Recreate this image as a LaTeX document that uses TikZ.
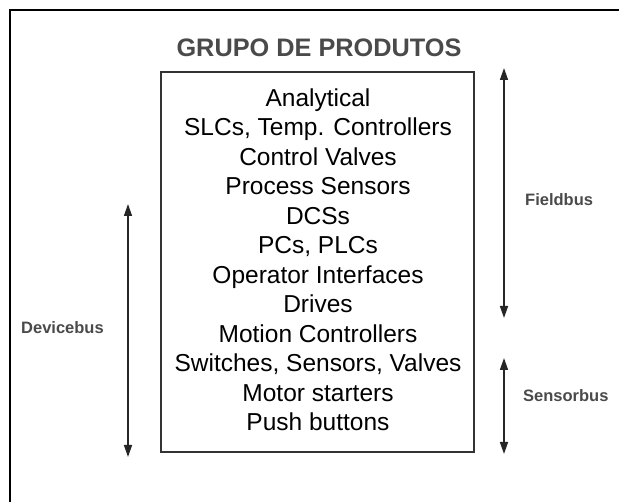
\documentclass[tikz,border=0pt]{standalone}
\usepackage{fontspec}
\setmainfont{Liberation Sans}
\usetikzlibrary{arrows.meta}
\definecolor{labelgray}{HTML}{4A4A4A}
\definecolor{boxgray}{HTML}{333333}
\tikzset{
  itemtext/.style={anchor=base, inner sep=0pt, font=\fontsize{24.5pt}{28pt}\selectfont, text=black},
  buslabel/.style={anchor=west, inner sep=0pt, font=\bfseries\fontsize{16.5pt}{20pt}\selectfont, text=labelgray},
  busarrow/.style={draw=black!85, line width=1.5pt, {Triangle[width=8pt,length=12pt]}-{Triangle[width=8pt,length=12pt]}},
  framestyle/.style={draw=black, line width=2.5pt},
  boxstyle/.style={draw=boxgray, line width=1.3pt}
}
\begin{document}
\begin{tikzpicture}[x=1pt,y=-1pt]
\useasboundingbox (0,0) rectangle (619,502);
% outer frame
\coordinate (fbl) at (10,503);
\coordinate (ftl) at (10,10);
\coordinate (ftr) at (620,10);
\draw[framestyle] (fbl) -- (ftl) -- (ftr);
% title
\node[anchor=base, inner sep=0pt, font=\bfseries\fontsize{25.3pt}{28pt}\selectfont, text=labelgray] (title) at (319,57) {GRUPO DE PRODUTOS};
% box
\node[boxstyle, minimum width=313pt, minimum height=380pt, inner sep=0pt] (box) at (317.5,262) {};
% items
\foreach \t [count=\i] in {Analytical,{SLCs, Temp. Controllers},Control Valves,Process Sensors,DCSs,{PCs, PLCs},Operator Interfaces,Drives,Motion Controllers,{Switches, Sensors, Valves},Motor starters,Push buttons}{
  \node[itemtext] (l\i) at (318,{106.5+29.5*(\i-1)}) {\t};
}
% arrows
\coordinate (dtop) at (128,204);
\coordinate (dbot) at (128,457);
\draw[busarrow] (dtop) -- (dbot);
\coordinate (ftop) at (504,68);
\coordinate (fbot) at (504,318);
\draw[busarrow] (ftop) -- (fbot);
\coordinate (stop) at (504,358);
\coordinate (sbot) at (504,454);
\draw[busarrow] (stop) -- (sbot);
% labels
\node[buslabel] (devlab) at (21,328) {Devicebus};
\node[buslabel] (fieldlab) at (525,200) {Fieldbus};
\node[buslabel] (sensorlab) at (523,396) {Sensorbus};
\end{tikzpicture}
\end{document}
